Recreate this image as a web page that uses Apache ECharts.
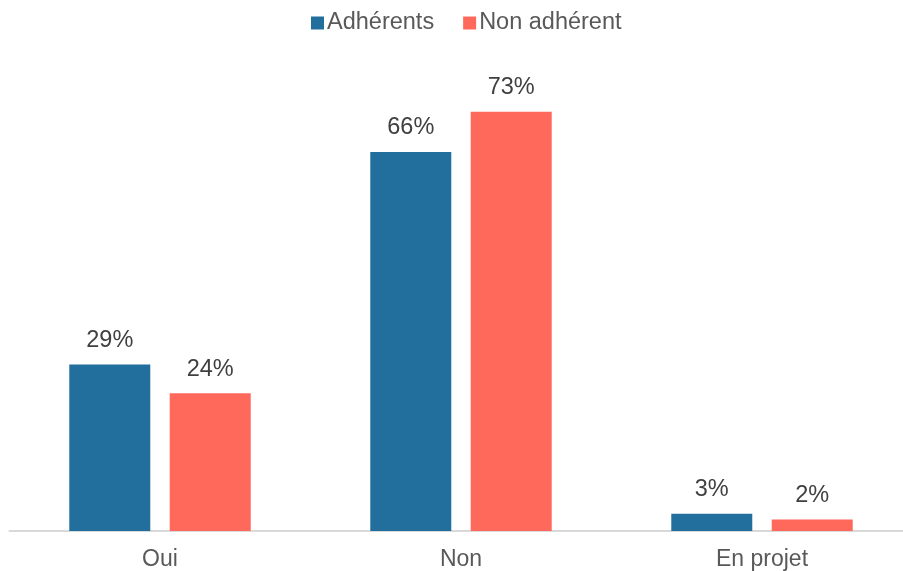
<!DOCTYPE html>
<html>
<head>
<meta charset="utf-8">
<script src="https://cdn.jsdelivr.net/npm/echarts@6/dist/echarts.min.js"></script>
<style>
  html, body { margin: 0; padding: 0; background: #fff; overflow: hidden; }
  #chart { width: 913px; height: 571px; }
</style>
</head>
<body>
<div id="chart"></div>
<script>
// Survey answers per group, in percent
const categories = ['Oui', 'Non', 'En projet'];
const seriesNames = ['Adhérents', 'Non adhérent'];
const adherents = [29, 66, 3];
const nonAdherents = [24, 73, 2];

const FONT = '"Liberation Sans", Arial, Helvetica, sans-serif';

const chart = echarts.init(document.getElementById('chart'), null, { renderer: 'canvas' });

const labelStyle = {
  show: true,
  position: 'top',
  distance: 12,
  formatter: p => p.value + '%',
  color: '#404040',
  fontSize: 23.5,
  fontFamily: FONT
};

chart.setOption({
  animation: false,
  legend: {
    data: seriesNames,
    top: 6,
    left: 306,
    itemWidth: 13,
    itemHeight: 13,
    itemGap: 29,
    icon: 'rect',
    textStyle: { color: '#595959', fontSize: 23.5, fontFamily: FONT, padding: [0, 0, 0, -2] }
  },
  grid: { left: 9.5, right: 0.5, top: 60, bottom: 39.5, containLabel: false },
  xAxis: {
    type: 'category',
    data: categories,
    axisLine: { show: true, lineStyle: { color: '#d9d9d9', width: 2 } },
    axisTick: { show: false },
    axisLabel: { color: '#595959', fontSize: 23, fontFamily: FONT, margin: 17 }
  },
  yAxis: {
    type: 'value',
    min: 0,
    max: 82,
    show: false,
    splitLine: { show: false }
  },
  series: [
    {
      name: seriesNames[0],
      type: 'bar',
      data: adherents,
      barWidth: 81,
      barGap: '24%',
      itemStyle: { color: '#226F9D' },
      label: labelStyle
    },
    {
      name: seriesNames[1],
      type: 'bar',
      data: nonAdherents,
      barWidth: 81,
      barGap: '24%',
      itemStyle: { color: '#FF695B' },
      label: labelStyle
    }
  ]
});
</script>
</body>
</html>
